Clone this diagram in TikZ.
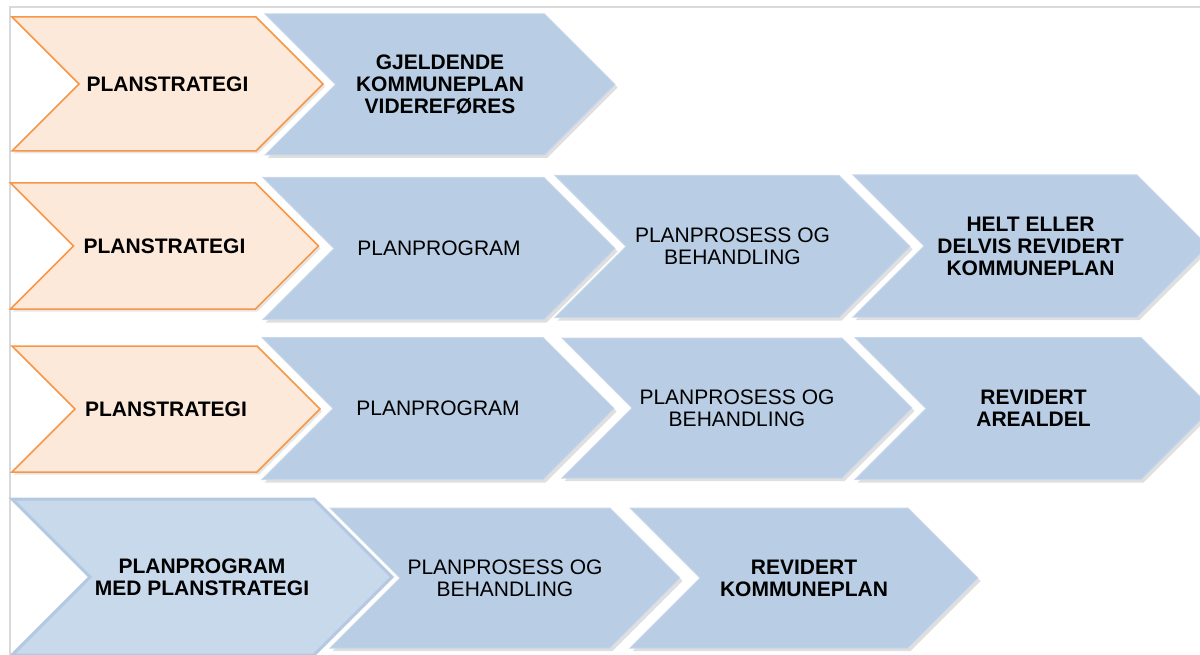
\documentclass[tikz,border=0pt]{standalone}
\usepackage{fontspec}
\setmainfont{Liberation Sans}
\usepackage{xcolor}
\usetikzlibrary{shapes.symbols,shadows}

\definecolor{stratfill}{HTML}{FDE9D9}
\definecolor{stratline}{HTML}{F79646}
\definecolor{stepfill}{HTML}{B9CDE5}
\definecolor{stepline}{HTML}{C8D7EA}
\definecolor{medfill}{HTML}{C9D9EC}
\definecolor{medline}{HTML}{B4C8E2}
\definecolor{framegray}{HTML}{D9D9D9}

\tikzset{
  chevron/.style={signal, signal from=west, signal to=east, signal pointer angle=90,
    inner sep=0pt, align=center, text=black, font=\fontsize{21}{22}\selectfont},
  strat/.style={chevron, fill=stratfill, draw=stratline, line width=1.5pt,
    minimum width=308pt, minimum height=126pt, font=\fontsize{21}{22}\selectfont\bfseries,
    drop shadow={shadow xshift=2pt, shadow yshift=-2.5pt, opacity=.2}},
  stage/.style={chevron, fill=stepfill, draw=stepline, line width=1pt,
    minimum width=352pt, minimum height=142pt,
    drop shadow={shadow xshift=2.5pt, shadow yshift=-3pt, opacity=.25}},
  goal/.style={stage, font=\fontsize{21}{22}\selectfont\bfseries},
}

\begin{document}
\begin{tikzpicture}[x=1pt,y=-1pt]%[scale=2.5]
\useasboundingbox (0,0) rectangle (1200,655);
\draw[framegray, line width=1.2pt] (10,655) -- (10,7) -- (1200,7);

% rad 1
\draw node[goal, minimum width=350pt, minimum height=141pt] (gk) at (440,84.5) {GJELDENDE\\KOMMUNEPLAN\\VIDEREFØRES};
\draw node[strat, minimum width=311pt, minimum height=134pt] (s1) at (167.5,84) {PLANSTRATEGI};

% rad 2 og 3
\draw node[strat] (s2) at (164.5,246) {PLANSTRATEGI};
\draw node[stage] (p2) at (439,248.5) {PLANPROGRAM};
\draw node[stage, minimum width=355pt] (b2) at (732.5,246.5) {PLANPROSESS OG\\BEHANDLING};
\draw node[goal, minimum width=355pt] (r2) at (1030.5,246) {HELT ELLER\\DELVIS REVIDERT\\KOMMUNEPLAN};

\draw node[strat] (s3) at (166,409) {PLANSTRATEGI};
\draw node[stage] (p3) at (438,408.5) {PLANPROGRAM};
\draw node[stage, minimum width=350pt, minimum height=140pt] (b3) at (737,408) {PLANPROSESS OG\\BEHANDLING};
\draw node[goal, minimum width=357pt] (r3) at (1033.5,408.5) {REVIDERT\\AREALDEL};

% rad 4
\draw node[chevron, fill=medfill, draw=medline, line width=3pt, minimum width=380pt, minimum height=156pt,
  font=\fontsize{21}{22}\selectfont\bfseries] (m4) at (202,577) {PLANPROGRAM\\MED PLANSTRATEGI};
\draw node[stage, minimum width=350pt, minimum height=140pt] (b4) at (505,578) {PLANPROSESS OG\\BEHANDLING};
\draw node[goal, minimum width=348pt, minimum height=140pt] (k4) at (804,578) {REVIDERT\\KOMMUNEPLAN};
\end{tikzpicture}
\end{document}
